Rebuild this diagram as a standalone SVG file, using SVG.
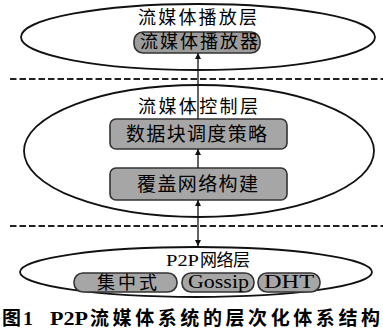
<svg xmlns="http://www.w3.org/2000/svg" width="383" height="336" viewBox="0 0 383 336">
<style>
.ell{fill:none;stroke:#111;stroke-width:1.8}
.dash{stroke:#222;stroke-width:1.8;stroke-dasharray:6.5 3}
.box{fill:#a6a6a6;stroke:#333;stroke-width:1.6}
.t{font-family:"Liberation Serif","Noto Sans CJK SC",serif;font-size:18px;fill:#000}
.lat{font-family:"Liberation Serif",serif;font-size:18.5px;fill:#000}
.cap{font-family:"Liberation Serif","Noto Sans CJK SC",serif;font-size:19px;font-weight:bold;fill:#000}
.ln{stroke:#111;stroke-width:1.3;fill:none}
</style>
<defs>
<marker id="ah" viewBox="0 0 10 10" refX="10" refY="5" markerWidth="6" markerHeight="7" markerUnits="userSpaceOnUse" orient="auto-start-reverse">
<path d="M0,0 L10,5 L0,10 z" fill="#111"/>
</marker>
</defs>
<rect width="383" height="336" fill="#fff"/>
<line class="dash" x1="10" y1="79" x2="383" y2="79"/>
<line class="dash" x1="10" y1="226" x2="383" y2="226"/>
<g id="layer-play">
<ellipse class="ell" cx="198" cy="37" rx="177" ry="33"/>
<text class="t" x="138" y="24" textLength="119" lengthAdjust="spacing">流媒体播放层</text>
</g>
<g id="player">
<rect class="box" x="134" y="32" width="126" height="21" rx="9" style="fill:#9c9c9c"/>
<text class="t" x="140" y="48" textLength="118" lengthAdjust="spacing">流媒体播放器</text>
</g>
<g id="layer-control">
<ellipse class="ell" cx="199" cy="151" rx="175" ry="66"/>
<text class="t" x="138" y="113" textLength="120" lengthAdjust="spacing">流媒体控制层</text>
</g>
<g id="schedule">
<rect class="box" x="110" y="119" width="177" height="30" rx="6"/>
<text class="t" x="126" y="141" style="font-size:19px" textLength="141" lengthAdjust="spacing">数据块调度策略</text>
</g>
<g id="overlay">
<rect class="box" x="110" y="168" width="177" height="32" rx="6"/>
<text class="t" x="137" y="191" style="font-size:19px" textLength="121" lengthAdjust="spacing">覆盖网络构建</text>
</g>
<g id="layer-p2p">
<ellipse class="ell" cx="196" cy="272" rx="176" ry="25"/>
<text class="t" y="266" style="font-size:17px"><tspan x="166" textLength="33" lengthAdjust="spacingAndGlyphs">P2P</tspan><tspan x="200" textLength="50" lengthAdjust="spacing">网络层</tspan></text>
</g>
<g id="central">
<rect class="box" x="74" y="273" width="103" height="19" rx="9"/>
<text class="t" x="97" y="289" textLength="60" lengthAdjust="spacing">集中式</text>
</g>
<g id="gossip">
<rect class="box" x="182" y="273" width="72" height="19" rx="9"/>
<text class="lat" x="188" y="288" textLength="61" lengthAdjust="spacingAndGlyphs">Gossip</text>
</g>
<g id="dht">
<rect class="box" x="258" y="273" width="62" height="19" rx="9"/>
<text class="lat" x="264" y="288" textLength="50" lengthAdjust="spacingAndGlyphs">DHT</text>
</g>
<g id="connectors">
<line class="ln" x1="198" y1="119" x2="198" y2="53" marker-end="url(#ah)"/>
<line class="ln" x1="198" y1="168" x2="198" y2="149" marker-end="url(#ah)"/>
<line class="ln" x1="198" y1="200" x2="198" y2="246" marker-start="url(#ah)" marker-end="url(#ah)"/>
</g>
<text class="cap" y="325"><tspan x="2" textLength="19" lengthAdjust="spacingAndGlyphs">图</tspan><tspan x="23" textLength="10" lengthAdjust="spacingAndGlyphs">1</tspan><tspan x="50" textLength="38" lengthAdjust="spacingAndGlyphs">P2P</tspan><tspan x="90" textLength="290" lengthAdjust="spacing">流媒体系统的层次化体系结构</tspan></text>
</svg>
